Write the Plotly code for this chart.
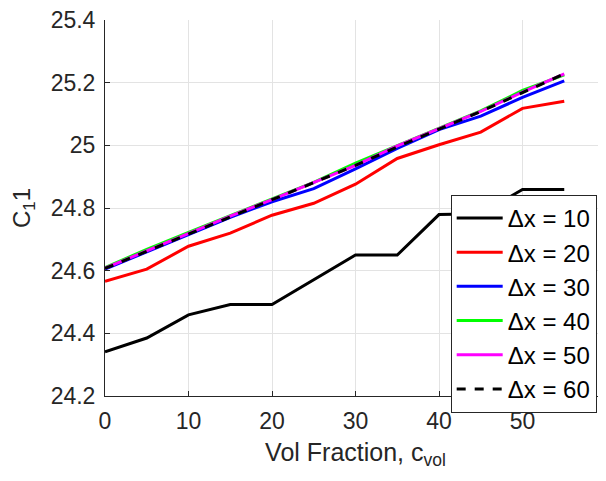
import plotly.graph_objects as go

# Data
vol_fraction = [0, 5, 10, 15, 20, 25, 30, 35, 40, 45, 50, 55]
c11_dx10 = [24.341, 24.385, 24.459, 24.492, 24.492, 24.571, 24.650, 24.650, 24.779, 24.782, 24.859, 24.859]
c11_dx20 = [24.566, 24.605, 24.678, 24.720, 24.777, 24.815, 24.876, 24.958, 25.002, 25.042, 25.118, 25.141]
c11_dx30 = [24.605, 24.660, 24.715, 24.770, 24.820, 24.862, 24.925, 24.990, 25.050, 25.093, 25.153, 25.206]
c11_dx40 = [24.610, 24.668, 24.722, 24.775, 24.828, 24.882, 24.943, 24.998, 25.055, 25.110, 25.175, 25.225]
c11_dx50 = [24.608, 24.664, 24.720, 24.774, 24.827, 24.882, 24.936, 24.998, 25.052, 25.108, 25.170, 25.228]
c11_dx60 = [24.607, 24.662, 24.718, 24.773, 24.826, 24.881, 24.936, 24.995, 25.052, 25.108, 25.168, 25.228]

y_ticks = [24.2, 24.4, 24.6, 24.8, 25, 25.2, 25.4]
y_labels = ['24.2', '24.4', '24.6', '24.8', '25', '25.2', '25.4']
x_ticks = [0, 10, 20, 30, 40, 50]

series = [
    ('Δx = 10', c11_dx10, '#000000', 'solid'),
    ('Δx = 20', c11_dx20, '#ff0000', 'solid'),
    ('Δx = 30', c11_dx30, '#0000ff', 'solid'),
    ('Δx = 40', c11_dx40, '#00ff00', 'solid'),
    ('Δx = 50', c11_dx50, '#ff00ff', 'solid'),
    ('Δx = 60', c11_dx60, '#000000', 'dash'),
]

fig = go.Figure()
for name, vals, color, dash in series:
    fig.add_trace(go.Scatter(x=vol_fraction, y=vals, name=name, mode='lines',
                             line=dict(color=color, width=3, dash=dash)))

axis_style = dict(showline=True, linewidth=1, linecolor='#262626',
                  showgrid=True, gridcolor='#e3e3e3', gridwidth=1,
                  ticks='inside', ticklen=5, tickcolor='#262626',
                  tickfont=dict(size=23, color='#262626'),
                  ticklabeloverflow='allow',
                  zeroline=False, automargin=False)

# page body has an 8px margin, so the figure is a bit smaller than the window
fig.update_layout(
    width=598, height=473,
    margin=dict(l=97, r=0, t=12, b=85),
    plot_bgcolor='white', paper_bgcolor='white',
    font=dict(family='Liberation Sans, Arial', color='#262626'),
    xaxis=dict(range=[0, 60], tickvals=x_ticks,
               title=dict(text='Vol Fraction, c<sub>vol</sub>', font=dict(size=25), standoff=10),
               ticklabelstandoff=4,
               **axis_style),
    yaxis=dict(range=[24.2, 25.4], tickvals=y_ticks, ticktext=y_labels,
               title=dict(text='C<sub>1</sub>1', font=dict(size=24), standoff=18),
               ticklabelstandoff=4,
               **axis_style),
    legend=dict(x=0.69, y=0.535, xanchor='left', yanchor='top',
                bgcolor='white', bordercolor='#262626', borderwidth=1,
                font=dict(size=24, color='#000000'), itemwidth=46,
                tracegroupgap=0),
    showlegend=True,
)

fig.write_html("out.html")
